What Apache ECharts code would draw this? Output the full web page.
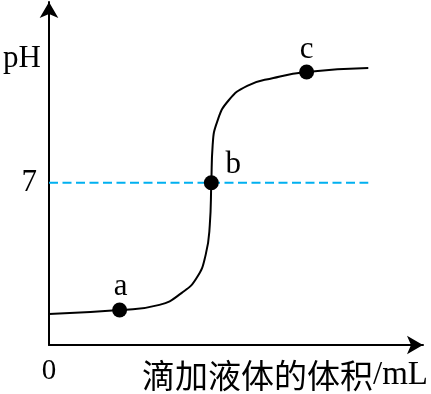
<!DOCTYPE html>
<html>
<head>
<meta charset="utf-8">
<script src="https://cdn.jsdelivr.net/npm/echarts@6/dist/echarts.min.js"></script>
<style>html,body{margin:0;padding:0;background:#fff}#c{width:431px;height:394px}</style>
</head>
<body>
<div id="c"></div>
<script>
// Curve: volume (arbitrary units) vs pH
const curveX = [0, 18.88, 29.52, 35.5, 39.5, 41.9, 43.0, 43.40, 43.75, 45.0, 48.0, 53.0, 60.0, 68.88, 85.37];
const curveY = [1.34, 1.51, 1.73, 2.25, 2.90, 3.90, 5.20, 7.0, 8.60, 9.65, 10.55, 11.18, 11.52, 11.78, 11.95];
// Marked points
const pointNames = ['a', 'b', 'c'];
const pointX = [18.88, 43.40, 68.88];
const pointY = [1.51, 7.0, 11.78];
// Neutral line
const neutralPH = 7;
const neutralX = [0, 85.37];
const yTickLabels = [7];
const xTickLabels = [0];

const chart = echarts.init(document.getElementById('c'), null, {renderer: 'canvas'});
const serif = 'Liberation Serif, Times New Roman, serif';
const labelOffsets = {a: [1, 6], b: [22, 11], c: [0, 7]};

chart.setOption({
  animation: false,
  grid: {left: 49, right: 6, top: 2, bottom: 49},
  xAxis: {
    type: 'value', min: 0, max: 100,
    splitLine: {show: false},
    axisLine: {lineStyle: {color: '#000', width: 2}, symbol: ['none', 'arrow'], symbolSize: [14, 16]},
    axisTick: {show: false},
    axisLabel: {customValues: xTickLabels, color: '#000', fontFamily: serif, fontSize: 29, margin: 12},
    name: '{cjk|滴加液体的体积}{lat|/mL}',
    nameLocation: 'end',
    nameGap: 5,
    nameTextStyle: {
      align: 'right', verticalAlign: 'top', padding: [14, 0, 0, 0],
      rich: {
        cjk: {fontFamily: 'Noto Sans CJK SC', fontSize: 33, color: '#000'},
        lat: {fontFamily: serif, fontSize: 33, color: '#000'}
      }
    }
  },
  yAxis: {
    type: 'value', min: 0, max: 14.8,
    splitLine: {show: false},
    axisLine: {lineStyle: {color: '#000', width: 2}, symbol: ['none', 'arrow'], symbolSize: [14, 16]},
    axisTick: {show: false},
    axisLabel: {customValues: yTickLabels, color: '#000', fontFamily: serif, fontSize: 31, margin: 12},
    name: 'pH',
    nameLocation: 'end',
    nameGap: -57,
    nameTextStyle: {align: 'right', verticalAlign: 'middle', padding: [0, 8, 0, 0], fontFamily: serif, fontSize: 31, color: '#000'}
  },
  series: [
    {
      type: 'line',
      data: neutralX.map(x => [x, neutralPH]),
      symbol: 'none',
      lineStyle: {color: '#00b0f0', width: 2, type: [9, 4.5]},
      z: 1
    },
    {
      type: 'line',
      data: curveX.map((x, i) => [x, curveY[i]]),
      symbol: 'none',
      smooth: 0.5,
      lineStyle: {color: '#000', width: 2},
      z: 2
    },
    {
      type: 'scatter',
      data: pointNames.map((n, i) => ({name: n, value: [pointX[i], pointY[i]], label: {offset: labelOffsets[n]}})),
      symbolSize: 15,
      itemStyle: {color: '#000', opacity: 1},
      label: {show: true, position: 'top', formatter: p => p.name, color: '#000', opacity: 1, fontFamily: serif, fontSize: 31, distance: 6},
      z: 3
    }
  ]
});
</script>
</body>
</html>
